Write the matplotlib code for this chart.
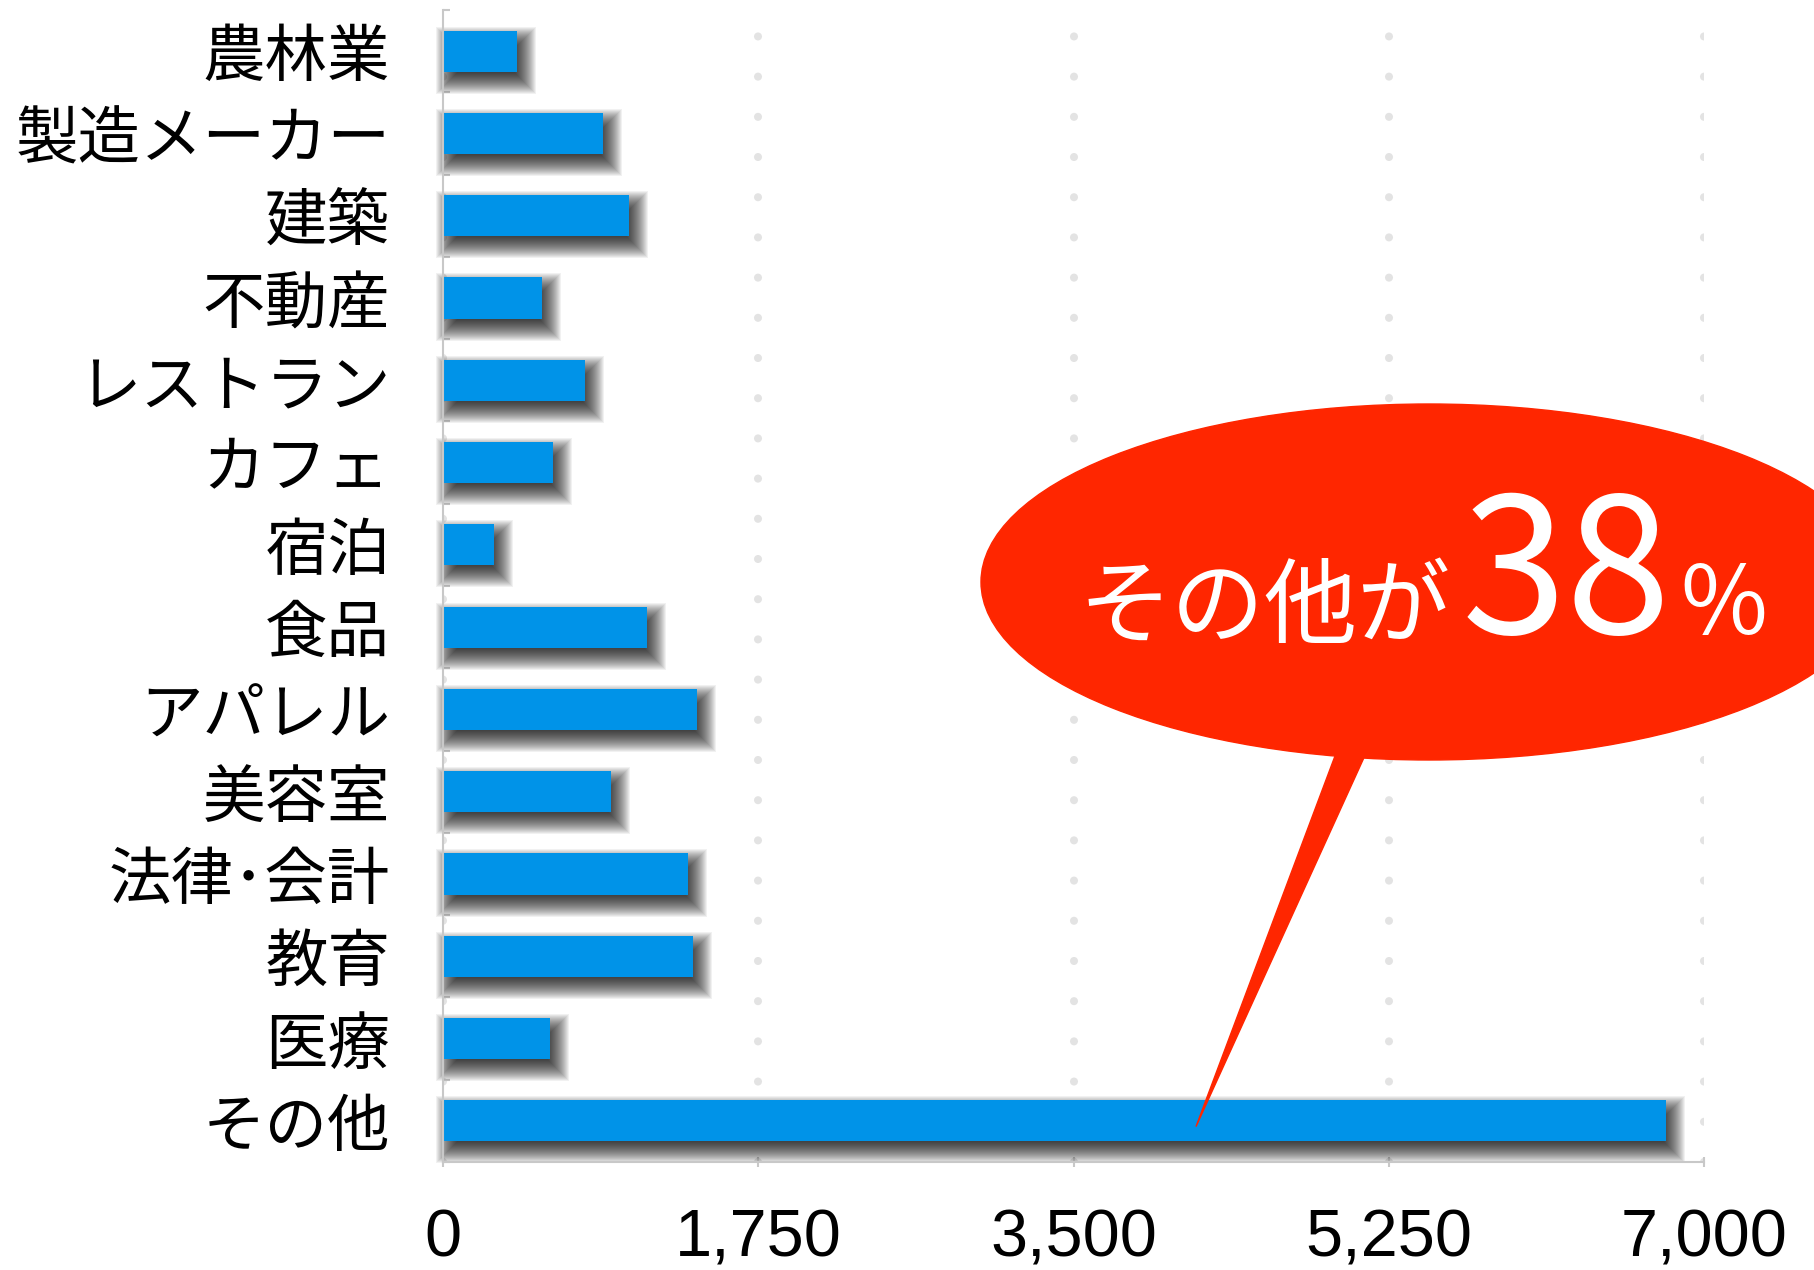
import numpy as np
import matplotlib
matplotlib.use("Agg")
import matplotlib.pyplot as plt
from matplotlib.patches import Ellipse, Polygon, Rectangle

plt.rcParams['font.family'] = ['Noto Sans CJK JP', 'DejaVu Sans']

# data
industries = ["農林業", "製造メーカー", "建築", "不動産", "レストラン", "カフェ", "宿泊",
              "食品", "アパレル", "美容室", "法律･会計", "教育", "医療", "その他"]
counts = [410, 890, 1030, 550, 790, 610, 283, 1130, 1410, 930, 1360, 1390, 594, 6790]

xticks = [0, 1750, 3500, 5250, 7000]
xtick_labels = ["0", "1,750", "3,500", "5,250", "7,000"]

callout_parts = ["その他が", "38", "%"]
callout_target = 4180   # where the pointer touches the "その他" bar

W, H = 1815, 1270
fig = plt.figure(figsize=(W / 100, H / 100), dpi=100)
ax = fig.add_axes([443 / W, 1 - 1162 / H, (1704 - 443) / W, (1162 - 10) / H])

y = np.arange(len(industries))
bars = ax.barh(y, counts, height=0.5, color='#0093e8', zorder=3)

ax.set_xlim(0, 7000)
ax.set_ylim(len(industries) - 0.5, -0.5)

# soft drop shadow under each bar: stack of rectangles growing in size
fig.canvas.draw()
px_x = 7000 / ax.bbox.width
px_y = len(industries) / ax.bbox.height
shift_x, shift_y = 6, 9
for b in bars:
    for r in np.linspace(-13, 13, 27):
        ax.add_patch(Rectangle((b.get_x() + (shift_x - r) * px_x, b.get_y() + (shift_y - r) * px_y),
                               b.get_width() + 2 * r * px_x, b.get_height() + 2 * r * px_y,
                               color='black', alpha=0.055, lw=0, zorder=2, clip_on=False))

ax.set_yticks(y)
ax.set_yticklabels(industries, fontsize=45)
ax.set_yticks(np.arange(len(industries) + 1) - 0.5, minor=True)
ax.tick_params(axis='y', which='major', length=0, pad=38)
ax.tick_params(axis='y', which='minor', direction='in', length=5, width=1.5, color='#c8c8c8')

ax.set_xticks(xticks)
ax.set_xticklabels(xtick_labels, fontsize=48, family=['Liberation Sans', 'DejaVu Sans'])
ax.tick_params(axis='x', direction='inout', length=7, width=1.5, color='#c8c8c8', pad=30)

# dotted vertical grid made of round dots
ax.set_axisbelow(True)
ax.grid(axis='x', color='#e3e3e3', linewidth=5.8, linestyle=(0, (0.01, 4.98)),
        dash_capstyle='round')
ax.grid(axis='y', visible=False)

for s in ['top', 'right']:
    ax.spines[s].set_visible(False)
for s in ['left', 'bottom']:
    ax.spines[s].set_color('#c8c8c8')
    ax.spines[s].set_linewidth(1.5)
    ax.spines[s].set_zorder(4)

# red speech bubble
red = '#ff2600'
bubble = Ellipse((1429 / W, 1 - 582 / H), 2 * 448 / W, 2 * 178 / H,
                 transform=fig.transFigure, color=red, zorder=10)
fig.add_artist(bubble)

tip = fig.transFigure.inverted().transform(ax.transData.transform((callout_target, len(industries) - 1 + 0.07)))
pointer = Polygon([(1341 / W, 1 - 740 / H), (1372 / W, 1 - 740 / H), tuple(tip)],
                  closed=True, transform=fig.transFigure, color=red, zorder=10)
fig.add_artist(pointer)

fig.text(1078 / W, 1 - 636 / H, callout_parts[0], fontsize=67, color='white',
         ha='left', va='baseline', zorder=11)
fig.text(1462 / W, 1 - 634 / H, callout_parts[1], fontsize=136, color='white',
         ha='left', va='baseline', zorder=11)
fig.text(1680 / W, 1 - 634 / H, callout_parts[2], fontsize=68, color='white',
         ha='left', va='baseline', zorder=11)

fig.savefig("out.png", dpi=100)
